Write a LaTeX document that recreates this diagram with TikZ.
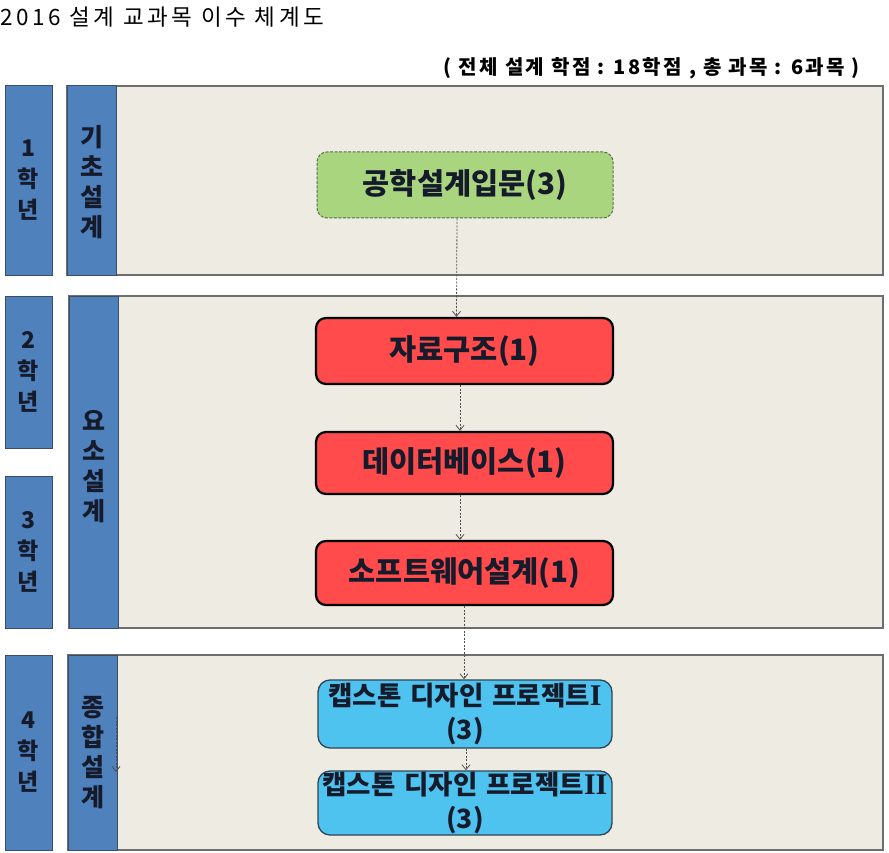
\documentclass[tikz,border=0pt]{standalone}
\usepackage{fontspec}
\setmainfont{Noto Sans CJK KR}
\newfontfamily\kr{Noto Sans CJK KR}
\newfontfamily\rom{Liberation Serif}
\usetikzlibrary{arrows.meta}
\definecolor{yearblue}{HTML}{4F81BD}
\definecolor{yearedge}{HTML}{3A4F66}
\definecolor{panelfill}{HTML}{EEEBE2}
\definecolor{paneledge}{HTML}{6E6E6E}
\definecolor{boxtext}{HTML}{151B2B}
\definecolor{greenfill}{HTML}{A9D57F}
\definecolor{greenedge}{HTML}{55704A}
\definecolor{redfill}{HTML}{FF4B4B}
\definecolor{cyanfill}{HTML}{4FC3EF}
\definecolor{cyanedge}{HTML}{2F4656}
\definecolor{arrgray}{HTML}{505050}
\tikzset{
  yearbox/.style={fill=yearblue,draw=yearedge,line width=1pt},
  panelbox/.style={fill=panelfill,draw=paneledge,line width=1.4pt},
  stacktext/.style={font=\kr\bfseries\fontsize{23}{31}\selectfont,text=boxtext,align=center,inner sep=0pt},
  cattext/.style={stacktext,font=\kr\bfseries\fontsize{25}{30}\selectfont},
  course/.style={rounded corners=10pt,minimum height=66pt,text width=290pt,align=center,
     font=\kr\bfseries\fontsize{29.5}{32}\selectfont,text=boxtext,inner sep=0pt},
  greenc/.style={course,fill=greenfill,draw=greenedge,line width=1pt,dash pattern=on 3pt off 1.5pt},
  redc/.style={course,fill=redfill,draw=black,line width=2.2pt},
  cyanc/.style={course,rounded corners=12pt,fill=cyanfill,draw=cyanedge,line width=1.3pt,
     font=\kr\bfseries\fontsize{26.5}{34}\selectfont},
  romnum/.style={},
  arr/.style={draw=arrgray,line width=0.8pt,dash pattern=on 2pt off 1.5pt,
     -{Straight Barb[length=5pt,width=8pt,line width=0.8pt]}}
}
\newcommand{\romI}[1]{{\rom\bfseries\fontsize{30}{34}\selectfont #1}}
\begin{document}
\begin{tikzpicture}[x=1pt,y=-1pt]
\useasboundingbox (0,0) rectangle (889,853);
\fill[white] (0,0) rectangle (889,853);
% title
\node[anchor=west,inner sep=0pt,font=\kr\fontsize{22.5}{24}\selectfont\addfontfeature{LetterSpace=16}] (title) at (0,17) {2016 설계 교과목 이수 체계도};
\node[anchor=east,inner sep=0pt,font=\kr\bfseries\fontsize{20}{22}\selectfont\addfontfeature{LetterSpace=12}] (sub) at (860,68) {( 전체 설계 학점 : 18학점 , 총 과목 : 6과목 )};
% panels
\draw[panelbox] (67,86) rectangle (883,275);
\draw[panelbox] (69,296) rectangle (883,628);
\draw[panelbox] (68,655) rectangle (883,850);
% category boxes
\draw[yearbox] (67,86) rectangle (116,275);
\draw[yearbox] (69,296) rectangle (118,628);
\draw[yearbox] (68,655) rectangle (117,850);
% year boxes
\draw[yearbox] (5,86) rectangle (52,275);
\draw[yearbox] (5,296) rectangle (52,448);
\draw[yearbox] (5,476) rectangle (52,628);
\draw[yearbox] (5,655) rectangle (52,850);
% stacked labels
\node[stacktext] (y1) at (28.5,180) {1\\학\\년};
\node[stacktext] (y2) at (28.5,372) {2\\학\\년};
\node[stacktext] (y3) at (28.5,552) {3\\학\\년};
\node[stacktext] (y4) at (28.5,752) {4\\학\\년};
\node[cattext] (c1) at (91.5,182) {기\\초\\설\\계};
\node[cattext] (c2) at (93.5,467) {요\\소\\설\\계};
\node[cattext] (c3) at (92.5,753) {종\\합\\설\\계};
% courses
\node[greenc,minimum width=296pt,text width=296pt] (g) at (465,185) {공학설계입문(3)};
\node[redc,minimum width=297pt,text width=297pt] (r1) at (464.5,351) {자료구조(1)};
\node[redc,minimum width=297pt,text width=297pt,minimum height=62pt] (r2) at (464.5,463) {데이터베이스(1)};
\node[redc,minimum width=297pt,text width=297pt,minimum height=64pt] (r3) at (464.5,573) {소프트웨어설계(1)};
\node[cyanc,minimum width=294pt,text width=294pt,minimum height=68pt] (b1) at (465,714) {캡스톤 디자인 프로젝트\romI{I}\\(3)};
\node[cyanc,minimum width=294pt,text width=294pt,minimum height=64pt] (b2) at (465,803) {캡스톤 디자인 프로젝트\romI{II}\\(3)};
% arrows
\draw[arr] ([xshift=-8pt]g.south) -- ([xshift=-8pt]r1.north);
\draw[arr] ([xshift=-4.5pt]r1.south) -- ([xshift=-4.5pt]r2.north);
\draw[arr] ([xshift=-4.5pt]r2.south) -- ([xshift=-4.5pt]r3.north);
\draw[arr] ([xshift=-0.5pt]r3.south) -- ([xshift=-1pt]b1.north);
\draw[arr] ([xshift=1pt]b1.south) -- ([xshift=1pt]b2.north);
\coordinate (s1) at (116,717);
\coordinate (s2) at (116,772);
\draw[arr] (s1) -- (s2);
\end{tikzpicture}
\end{document}
